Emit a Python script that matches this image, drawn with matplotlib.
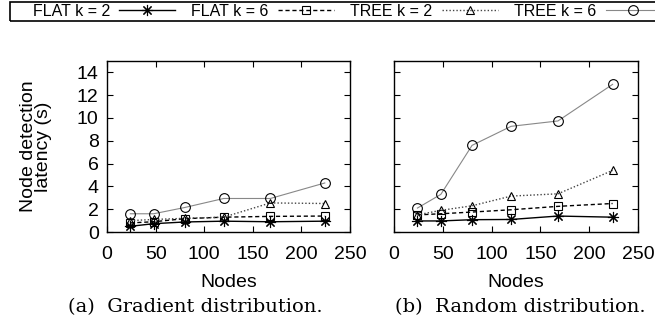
import matplotlib
matplotlib.use("Agg")
import matplotlib.pyplot as plt
from matplotlib.patches import Rectangle

plt.rcParams['font.family'] = ['Liberation Sans', 'DejaVu Sans']

nodes = [24, 48, 80, 120, 168, 224]

# (a) gradient distribution
grad_flat2 = [0.5, 0.73, 0.88, 0.95, 0.9, 0.95]
grad_flat6 = [0.8, 0.9, 1.17, 1.3, 1.37, 1.4]
grad_tree2 = [1.0, 1.1, 1.2, 1.3, 2.55, 2.5]
grad_tree6 = [1.6, 1.6, 2.15, 2.94, 2.94, 4.3]

# (b) random distribution
rand_flat2 = [0.97, 0.97, 1.08, 1.1, 1.4, 1.3]
rand_flat6 = [1.5, 1.6, 1.75, 1.95, 2.25, 2.5]
rand_tree2 = [1.5, 1.9, 2.3, 3.15, 3.35, 5.4]
rand_tree6 = [2.1, 3.3, 7.6, 9.27, 9.74, 12.95]

labels = ["FLAT k = 2", "FLAT k = 6", "TREE k = 2", "TREE k = 6"]
xticks = [0, 50, 100, 150, 200, 250]
yticks = [0, 2, 4, 6, 8, 10, 12, 14]

styles = [
    dict(color="black", ls="-", marker=(8, 2, 0), ms=8, lw=1.0),
    dict(color="black", ls=(0, (3, 2)), marker="s", ms=6, lw=1.0),
    dict(color="#444444", ls=(0, (1, 1.5)), marker="^", ms=6, lw=1.0),
    dict(color="#888888", ls="-", marker="o", ms=7, lw=0.8),
]

fig = plt.figure(figsize=(6.55, 3.27), dpi=100)
axA = fig.add_axes([0.1634, 0.2905, 0.371, 0.523])
axB = fig.add_axes([0.6015, 0.2905, 0.3725, 0.523])

handles = []
for ax, series in ((axA, [grad_flat2, grad_flat6, grad_tree2, grad_tree6]),
                   (axB, [rand_flat2, rand_flat6, rand_tree2, rand_tree6])):
    hs = []
    for ys, st, lab in zip(series, styles, labels):
        h, = ax.plot(nodes, ys, label=lab, mfc="none", mec="black", mew=0.8,
                     color=st["color"], ls=st["ls"], marker=st["marker"],
                     ms=st["ms"], lw=st["lw"])
        hs.append(h)
    handles = hs
    ax.set_xlim(0, 250)
    ax.set_ylim(0, 15)
    ax.set_xticks(xticks)
    ax.set_yticks(yticks)
    ax.tick_params(direction="in", top=True, right=True, length=4, labelsize=14, pad=6)
    ax.tick_params(axis="x", pad=10)
    ax.set_xlabel("Nodes", fontsize=14, labelpad=8)
    for s in ax.spines.values():
        s.set_linewidth(1.0)

axB.tick_params(labelleft=False)
axA.set_ylabel("Node detection\nlatency (s)", fontsize=14, labelpad=18, linespacing=0.85)

fig.text(0.298, 0.06, "(a)  Gradient distribution.", ha="center", va="center",
         fontsize=14, family="DejaVu Serif")
fig.text(0.794, 0.06, "(b)  Random distribution.", ha="center", va="center",
         fontsize=14, family="DejaVu Serif")

fig.legend(handles, labels, loc="center left", bbox_to_anchor=(0.04, 0.966), ncol=4,
           frameon=False, markerfirst=False, fontsize=11.5, handlelength=3.5,
           columnspacing=1.0, handletextpad=0.6, borderaxespad=0)
fig.patches.append(Rectangle((0.016, 0.936), 1.0, 0.058, transform=fig.transFigure,
                             fill=False, edgecolor="black", lw=1.2, figure=fig))

fig.savefig("out.png", dpi=100)
